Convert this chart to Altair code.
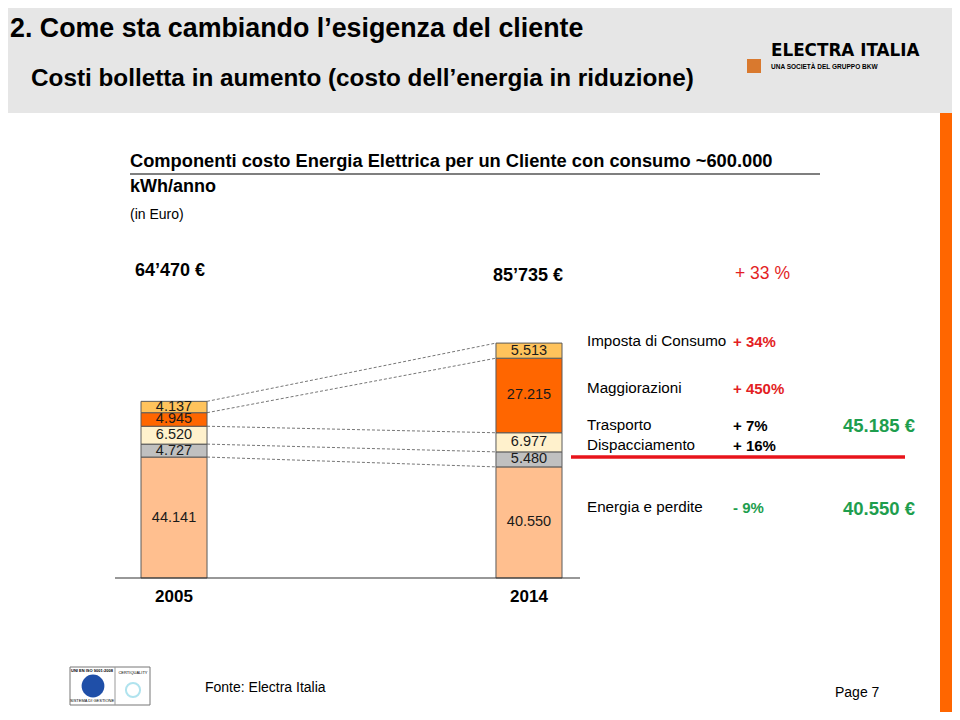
import altair as alt
import pandas as pd

FONT = "Liberation Sans"
OX, OY = 8, 8  # page margin offset

years = ["2005", "2014"]
components = ["Energia e perdite", "Dispacciamento", "Trasporto", "Maggiorazioni", "Imposta di Consumo"]
values_2005 = [44.141, 4.727, 6.520, 4.945, 4.137]
values_2014 = [40.550, 5.480, 6.977, 27.215, 5.513]
comp_colors = ["#FFBF8F", "#C0C0C0", "#FFF1CC", "#FF6600", "#FFC35C"]

right_labels = ["Imposta di Consumo", "Maggiorazioni", "Trasporto", "Dispacciamento", "Energia e perdite"]
right_changes = ["+ 34%", "+ 450%", "+ 7%", "+ 16%", "- 9%"]

# ---- data table for bars ----
rows = []
for yr, vals in zip(years, [values_2005, values_2014]):
    cum = 0.0
    for c, v in zip(components, vals):
        rows.append({"year": yr, "comp": c, "value": v, "y0": cum, "y1": cum + v,
                     "mid": cum + v / 2, "label": f"{v:.3f}"})
        cum += v
bars_df = pd.DataFrame(rows)

# connectors between cumulative tops
conn = []
c05 = 0.0
c14 = 0.0
for v5, v14 in zip(values_2005, values_2014):
    c05 += v5
    c14 += v14
    conn.append({"from": "2005", "to": "2014", "t05": c05, "t14": c14})
conn_df = pd.DataFrame(conn)

total05 = sum(values_2005)
total14 = sum(values_2014)
upper14 = sum(values_2014[1:])


def fmt_total(v):
    s = f"{round(v * 1000):,}".replace(",", "\u2019")
    return s + " \u20ac"


xs = alt.Scale(domain=years, range=[133, 554], paddingInner=0.814, paddingOuter=0)
ys = alt.Scale(domain=[0, 100], range=[570, 296], zero=False, nice=False)

base = pd.DataFrame({"k": [0]})


def rect(x1, y1, x2, y2, fill, stroke=None, sw=0):
    kw = dict(fill=fill)
    if stroke:
        kw.update(stroke=stroke, strokeWidth=sw)
    return alt.Chart(base).mark_rect(**kw).encode(
        x=alt.value(x1 - OX), x2=alt.value(x2 - OX), y=alt.value(y1 - OY), y2=alt.value(y2 - OY))


def hline(x1, x2, y, color="#000", sw=1):
    return alt.Chart(base).mark_rule(color=color, strokeWidth=sw).encode(
        x=alt.value(x1 - OX), x2=alt.value(x2 - OX), y=alt.value(y - OY))


def txt(s, x, y, size=14, weight="normal", color="#000", align="left", font=FONT):
    return alt.Chart(base).mark_text(text=s, fontSize=size, fontWeight=weight, color=color,
                                     align=align, baseline="middle", font=font).encode(
        x=alt.value(x - OX), y=alt.value(y - OY))


layers = []
# header band
layers.append(rect(0, 0, 960, 113, "#E6E6E6"))
# right orange strip
layers.append(rect(940, 113, 960, 728, "#FF6600"))

layers.append(txt("2.  Come sta cambiando l\u2019esigenza del cliente", 10, 29, size=26.8, weight="bold"))
layers.append(txt("Costi bolletta in aumento (costo dell\u2019energia in riduzione)", 31, 79, size=24.3, weight="bold"))

# logo
layers.append(rect(747, 59, 761, 73, "#D9792E"))
layers.append(txt("ELECTRA ITALIA", 771, 51, size=16.8, weight="bold", font="DejaVu Sans"))
layers.append(txt("UNA SOCIET\u00c0 DEL GRUPPO BKW", 771, 67, size=6.5, weight="bold"))

# chart heading
layers.append(txt("Componenti costo Energia Elettrica per un Cliente con consumo ~600.000", 130, 162, size=18.3, weight="bold"))
layers.append(hline(130, 820, 174, sw=1.2))
layers.append(txt("kWh/anno", 130, 187, size=18, weight="bold"))
layers.append(txt("(in Euro)", 130, 215, size=14))

layers.append(txt(fmt_total(total05), 135, 271, size=18, weight="bold"))
layers.append(txt(fmt_total(total14), 493, 276, size=18, weight="bold"))
layers.append(txt("+ 33 %", 735, 274, size=17.5, color="#E31E24"))

# connectors
layers.append(alt.Chart(conn_df).mark_rule(color="#777777", strokeWidth=1, strokeDash=[3, 2]).encode(
    x=alt.X("from:N", scale=xs, axis=None, bandPosition=1),
    x2=alt.X2("to:N", bandPosition=0),
    y=alt.Y("t05:Q", scale=ys, axis=None),
    y2="t14:Q",
))

# bars
layers.append(alt.Chart(bars_df).mark_bar(stroke="#5A5A5A", strokeWidth=1).encode(
    x=alt.X("year:N", scale=xs, axis=None),
    y=alt.Y("y0:Q", scale=ys, axis=None),
    y2="y1:Q",
    color=alt.Color("comp:N", scale=alt.Scale(domain=components, range=comp_colors), legend=None),
))
layers.append(alt.Chart(bars_df).mark_text(fontSize=14.5, font=FONT, color="#1A1A1A", baseline="middle").encode(
    x=alt.X("year:N", scale=xs, axis=None),
    y=alt.Y("mid:Q", scale=ys, axis=None),
    text="label:N",
))

# axis baseline
layers.append(hline(115, 580, 578, color="#333333", sw=1.2))
# year labels
layers.append(alt.Chart(pd.DataFrame({"year": years})).mark_text(
    fontSize=17, fontWeight="bold", font=FONT, baseline="middle").encode(
    x=alt.X("year:N", scale=xs, axis=None),
    y=alt.value(597 - OY),
    text="year:N",
))

# right side annotations
ry = [341, 388, 425, 445, 507]
rc = ["#E31E24", "#E31E24", "#000000", "#000000", "#1E9E4E"]
for lab, chg, yy, col in zip(right_labels, right_changes, ry, rc):
    layers.append(txt(lab, 587, yy, size=15.2))
    layers.append(txt(chg, 733, yy + 1, size=15, weight="bold", color=col))

layers.append(hline(571, 905, 457, color="#E8141B", sw=3.5))
layers.append(txt(f"{upper14:.3f} \u20ac", 843, 426, size=18.5, weight="bold", color="#1E9E4E"))
layers.append(txt(f"{values_2014[0]:.3f} \u20ac", 843, 509, size=18.5, weight="bold", color="#1E9E4E"))

# footer: certification logo approximation
layers.append(rect(70, 667, 150, 705, "#FFFFFF", stroke="#777777", sw=1))
layers.append(alt.Chart(base).mark_rule(color="#999999").encode(
    x=alt.value(115 - OX), y=alt.value(667 - OY), y2=alt.value(705 - OY)))
layers.append(alt.Chart(base).mark_point(shape="circle", filled=True, color="#1F4FA8", size=520, opacity=1).encode(
    x=alt.value(93 - OX), y=alt.value(686 - OY)))
layers.append(alt.Chart(base).mark_point(shape="circle", filled=False, color="#8FD8E8", size=200, strokeWidth=2).encode(
    x=alt.value(133 - OX), y=alt.value(690 - OY)))
layers.append(txt("UNI EN ISO 9001:2008", 92, 671, size=4, weight="bold", align="center"))
layers.append(txt("SISTEMA DI GESTIONE", 92, 701, size=4, align="center"))
layers.append(txt("CERTIQUALITY", 133, 673, size=4, align="center"))

layers.append(txt("Fonte: Electra Italia", 205, 688, size=14))
layers.append(txt("Page 7", 835, 693, size=14))

chart = alt.layer(*layers).properties(
    width=944, height=704,
    autosize=alt.AutoSizeParams(type="none"),
    padding=0,
    background="#FFFFFF",
).configure_view(stroke=None)

chart.save("out.html", embed_options={"renderer": "svg", "actions": False})
